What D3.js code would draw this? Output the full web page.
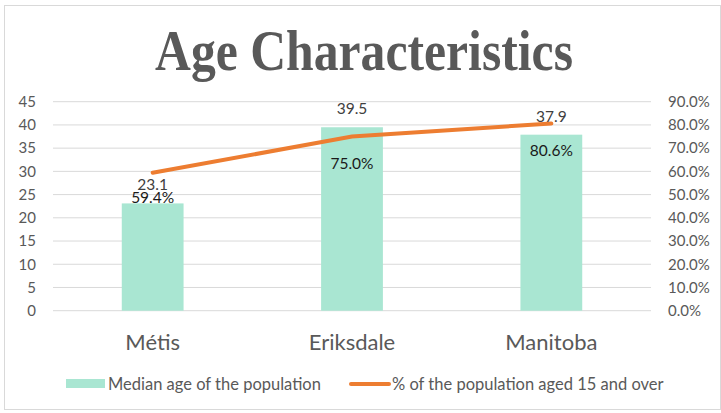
<!DOCTYPE html>
<html><head><meta charset="utf-8">
<script src="https://cdn.jsdelivr.net/npm/d3@7"></script>
<style>body{margin:0;background:#fff}svg{display:block}</style>
</head><body>
<script>
const categories = ["Métis", "Eriksdale", "Manitoba"];
const medianAge = [23.1, 39.5, 37.9];
const pct15Over = [0.594, 0.75, 0.806];
const leftTicks = [0,5,10,15,20,25,30,35,40,45];
const rightTicks = [0,0.1,0.2,0.3,0.4,0.5,0.6,0.7,0.8,0.9];
const seriesNames = ["Median age of the population", "% of the population aged 15 and over"];

(function(){
const W = 721, H = 413;
const font = "Lato, 'Open Sans', sans-serif";
const svg = d3.select("body").append("svg").attr("width", W).attr("height", H);
svg.append("rect").attr("x",4.5).attr("y",5.5).attr("width",W-5).attr("height",H-9)
  .attr("fill","#fff").attr("stroke","#d9d9d9");

const pLeft = 53, pRight = 651, pTop = 101.7, pBottom = 310.7;
const x = d3.scaleBand().domain(categories).range([pLeft,pRight]).paddingInner(0.69).paddingOuter(0.345);
const yL = d3.scaleLinear().domain([0,45]).range([pBottom, pTop]);
const yR = d3.scaleLinear().domain([0,0.9]).range([pBottom, pTop]);

svg.append("text").attr("x", 364).attr("y", 70).attr("text-anchor","middle")
  .attr("font-family","'Liberation Serif', serif").attr("font-weight","bold")
  .attr("font-size", 56).attr("fill","#595959")
  .attr("textLength", 418).attr("lengthAdjust","spacingAndGlyphs")
  .text("Age Characteristics");

svg.append("g").selectAll("line").data(leftTicks).join("line")
  .attr("x1",pLeft).attr("x2",pRight).attr("y1",d=>yL(d)).attr("y2",d=>yL(d))
  .attr("stroke","#d9d9d9").attr("stroke-width",1);

const axL = svg.append("g").attr("transform",`translate(${pLeft-17},0)`)
  .call(d3.axisLeft(yL).tickValues(leftTicks).tickSize(0).tickPadding(0));
axL.select(".domain").remove();
axL.selectAll("text").attr("font-family",font).attr("font-size",15).attr("fill","#595959");

const axR = svg.append("g").attr("transform",`translate(${pRight+17},0)`)
  .call(d3.axisRight(yR).tickValues(rightTicks).tickSize(0).tickPadding(0).tickFormat(d3.format(".1%")));
axR.select(".domain").remove();
axR.selectAll("text").attr("font-family",font).attr("font-size",15).attr("fill","#595959");

svg.append("g").selectAll("rect").data(medianAge).join("rect")
  .attr("x",(d,i)=>x(categories[i])).attr("width",x.bandwidth())
  .attr("y",d=>yL(d)).attr("height",d=>pBottom-yL(d)).attr("fill","#a9e6d2");

svg.append("g").selectAll("text").data(categories).join("text")
  .attr("x",d=>x(d)+x.bandwidth()/2).attr("y",349.5).attr("text-anchor","middle")
  .attr("font-family",font).attr("font-size",22).attr("fill","#595959").text(d=>d);

const cx = i => x(categories[i]) + x.bandwidth()/2;
svg.append("path").datum(pct15Over)
  .attr("d", d3.line().x((d,i)=>cx(i)).y(d=>yR(d)))
  .attr("fill","none").attr("stroke","#ed7d31").attr("stroke-width",4).attr("stroke-linecap","round");

svg.append("g").selectAll("text").data(medianAge).join("text")
  .attr("x",(d,i)=>cx(i)).attr("y",d=>yL(d)-13).attr("text-anchor","middle")
  .attr("font-family",font).attr("font-size",15.5).attr("fill","#404040").text(d=>d.toFixed(1));

const lineLabelDy = [30.5, 32, 32.5];
svg.append("g").selectAll("text").data(pct15Over).join("text")
  .attr("x",(d,i)=>cx(i)).attr("y",(d,i)=>yR(d)+lineLabelDy[i]).attr("text-anchor","middle")
  .attr("font-family",font).attr("font-size",15.5).attr("fill","#1a1a1a").text(d=>d3.format(".1%")(d));

const lg = svg.append("g");
lg.append("rect").attr("x",66).attr("y",379).attr("width",39).attr("height",9).attr("fill","#a9e6d2");
lg.append("text").attr("x",108).attr("y",389.5).attr("font-family",font).attr("font-size",16.5).attr("fill","#595959").text(seriesNames[0]);
lg.append("line").attr("x1",351).attr("x2",389).attr("y1",384).attr("y2",384).attr("stroke","#ed7d31").attr("stroke-width",4).attr("stroke-linecap","round");
lg.append("text").attr("x",392).attr("y",389.5).attr("font-family",font).attr("font-size",16.5).attr("fill","#595959").text(seriesNames[1]);
})();
</script>
</body></html>
